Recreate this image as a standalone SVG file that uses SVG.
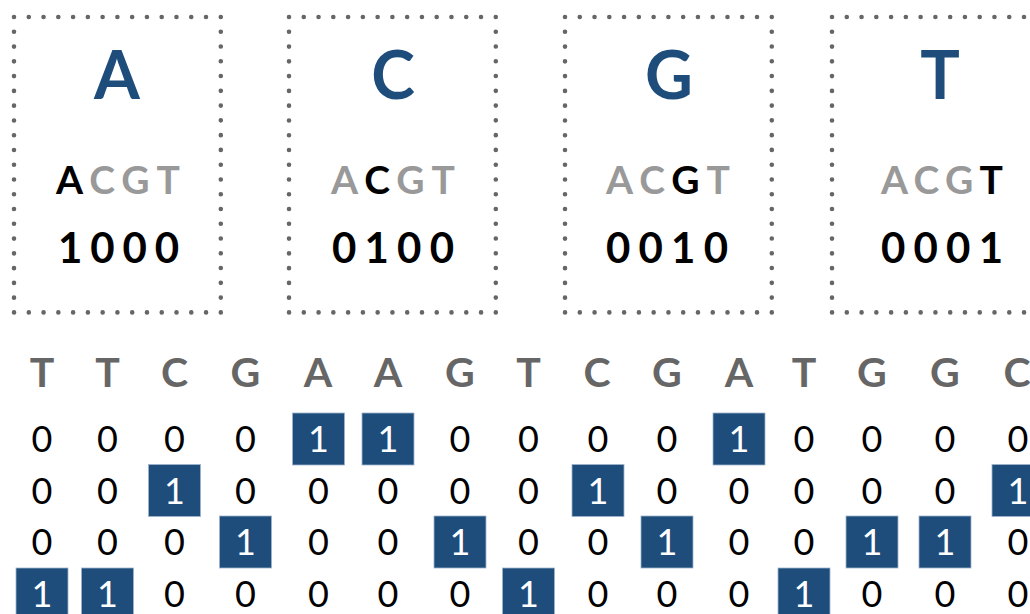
<svg xmlns="http://www.w3.org/2000/svg" width="1030" height="614" viewBox="0 0 1030 614">
<style>
.frame{fill:none;stroke:#666;stroke-width:4.6;stroke-linecap:round;stroke-dasharray:0 14.77}
.big{font-family:Lato,"Liberation Sans",sans-serif;font-weight:700;font-size:66px;fill:#1e4d7c;text-anchor:middle}
.code{font-family:Lato,"Liberation Sans",sans-serif;font-weight:700;font-size:39px;fill:#999}
.on{fill:#000}
.bits{font-family:Lato,"Liberation Sans",sans-serif;font-weight:700;font-size:42px;fill:#000}
.seq{font-family:Lato,"Liberation Sans",sans-serif;font-weight:700;font-size:41px;fill:#666;text-anchor:middle}
.z{font-family:Lato,"Liberation Sans",sans-serif;font-weight:400;font-size:36px;fill:#000;text-anchor:middle}
.o{fill:#fff}
.cell{fill:#1e4d7c;stroke:#9fb4cc;stroke-width:0.8}
</style>
<g id="node-A">
<rect class="frame" x="14" y="17" width="206.8" height="295.4"/>
<text class="big" x="117" y="99">A</text>
<text class="code" x="56" y="194" textLength="124" lengthAdjust="spacing"><tspan class="on">A</tspan>CGT</text>
<text class="bits" x="58" y="263" textLength="121" lengthAdjust="spacing">1000</text>
</g>
<g id="node-C">
<rect class="frame" x="289" y="17" width="206.8" height="295.4"/>
<text class="big" x="393" y="99">C</text>
<text class="code" x="331" y="194" textLength="124" lengthAdjust="spacing">A<tspan class="on">C</tspan>GT</text>
<text class="bits" x="332" y="263" textLength="122" lengthAdjust="spacing">0100</text>
</g>
<g id="node-G">
<rect class="frame" x="565" y="17" width="206.8" height="295.4"/>
<text class="big" x="669" y="99">G</text>
<text class="code" x="606" y="194" textLength="124" lengthAdjust="spacing">AC<tspan class="on">G</tspan>T</text>
<text class="bits" x="606" y="263" textLength="122" lengthAdjust="spacing">0010</text>
</g>
<g id="node-T">
<rect class="frame" x="832" y="17" width="206.8" height="295.4"/>
<text class="big" x="940" y="99">T</text>
<text class="code" x="881" y="194" textLength="122" lengthAdjust="spacing">ACG<tspan class="on">T</tspan></text>
<text class="bits" x="881" y="263" textLength="122" lengthAdjust="spacing">0001</text>
</g>
<g id="sequence">
<text class="seq" x="42" y="387">T</text>
<text class="seq" x="107.5" y="387">T</text>
<text class="seq" x="174.5" y="387">C</text>
<text class="seq" x="245.5" y="387">G</text>
<text class="seq" x="318" y="387">A</text>
<text class="seq" x="388" y="387">A</text>
<text class="seq" x="460" y="387">G</text>
<text class="seq" x="528.5" y="387">T</text>
<text class="seq" x="597" y="387">C</text>
<text class="seq" x="667" y="387">G</text>
<text class="seq" x="739" y="387">A</text>
<text class="seq" x="804" y="387">T</text>
<text class="seq" x="872" y="387">G</text>
<text class="seq" x="945" y="387">G</text>
<text class="seq" x="1017" y="387">C</text>
</g>
<g id="row-A">
<rect class="cell" x="292.5" y="413" width="52" height="52"/>
<rect class="cell" x="362" y="413" width="52" height="52"/>
<rect class="cell" x="713" y="413" width="52" height="52"/>
<text class="z" y="452"><tspan x="42">0</tspan><tspan x="107.5">0</tspan><tspan x="174.5">0</tspan><tspan x="245.5">0</tspan><tspan x="318.5" class="o">1</tspan><tspan x="388" class="o">1</tspan><tspan x="460">0</tspan><tspan x="528.5">0</tspan><tspan x="598">0</tspan><tspan x="667">0</tspan><tspan x="739" class="o">1</tspan><tspan x="804">0</tspan><tspan x="872">0</tspan><tspan x="945">0</tspan><tspan x="1018">0</tspan></text>
</g>
<g id="row-C">
<rect class="cell" x="148.5" y="464.5" width="52" height="52"/>
<rect class="cell" x="572" y="464.5" width="52" height="52"/>
<rect class="cell" x="992" y="464.5" width="52" height="52"/>
<text class="z" y="503.5"><tspan x="42">0</tspan><tspan x="107.5">0</tspan><tspan x="174.5" class="o">1</tspan><tspan x="245.5">0</tspan><tspan x="318.5">0</tspan><tspan x="388">0</tspan><tspan x="460">0</tspan><tspan x="528.5">0</tspan><tspan x="598" class="o">1</tspan><tspan x="667">0</tspan><tspan x="739">0</tspan><tspan x="804">0</tspan><tspan x="872">0</tspan><tspan x="945">0</tspan><tspan x="1018" class="o">1</tspan></text>
</g>
<g id="row-G">
<rect class="cell" x="219.5" y="516" width="52" height="52"/>
<rect class="cell" x="434" y="516" width="52" height="52"/>
<rect class="cell" x="641" y="516" width="52" height="52"/>
<rect class="cell" x="846" y="516" width="52" height="52"/>
<rect class="cell" x="919" y="516" width="52" height="52"/>
<text class="z" y="555"><tspan x="42">0</tspan><tspan x="107.5">0</tspan><tspan x="174.5">0</tspan><tspan x="245.5" class="o">1</tspan><tspan x="318.5">0</tspan><tspan x="388">0</tspan><tspan x="460" class="o">1</tspan><tspan x="528.5">0</tspan><tspan x="598">0</tspan><tspan x="667" class="o">1</tspan><tspan x="739">0</tspan><tspan x="804">0</tspan><tspan x="872" class="o">1</tspan><tspan x="945" class="o">1</tspan><tspan x="1018">0</tspan></text>
</g>
<g id="row-T">
<rect class="cell" x="16" y="568" width="52" height="52"/>
<rect class="cell" x="81.5" y="568" width="52" height="52"/>
<rect class="cell" x="502.5" y="568" width="52" height="52"/>
<rect class="cell" x="778" y="568" width="52" height="52"/>
<text class="z" y="607"><tspan x="42" class="o">1</tspan><tspan x="107.5" class="o">1</tspan><tspan x="174.5">0</tspan><tspan x="245.5">0</tspan><tspan x="318.5">0</tspan><tspan x="388">0</tspan><tspan x="460">0</tspan><tspan x="528.5" class="o">1</tspan><tspan x="598">0</tspan><tspan x="667">0</tspan><tspan x="739">0</tspan><tspan x="804" class="o">1</tspan><tspan x="872">0</tspan><tspan x="945">0</tspan><tspan x="1018">0</tspan></text>
</g>
</svg>
